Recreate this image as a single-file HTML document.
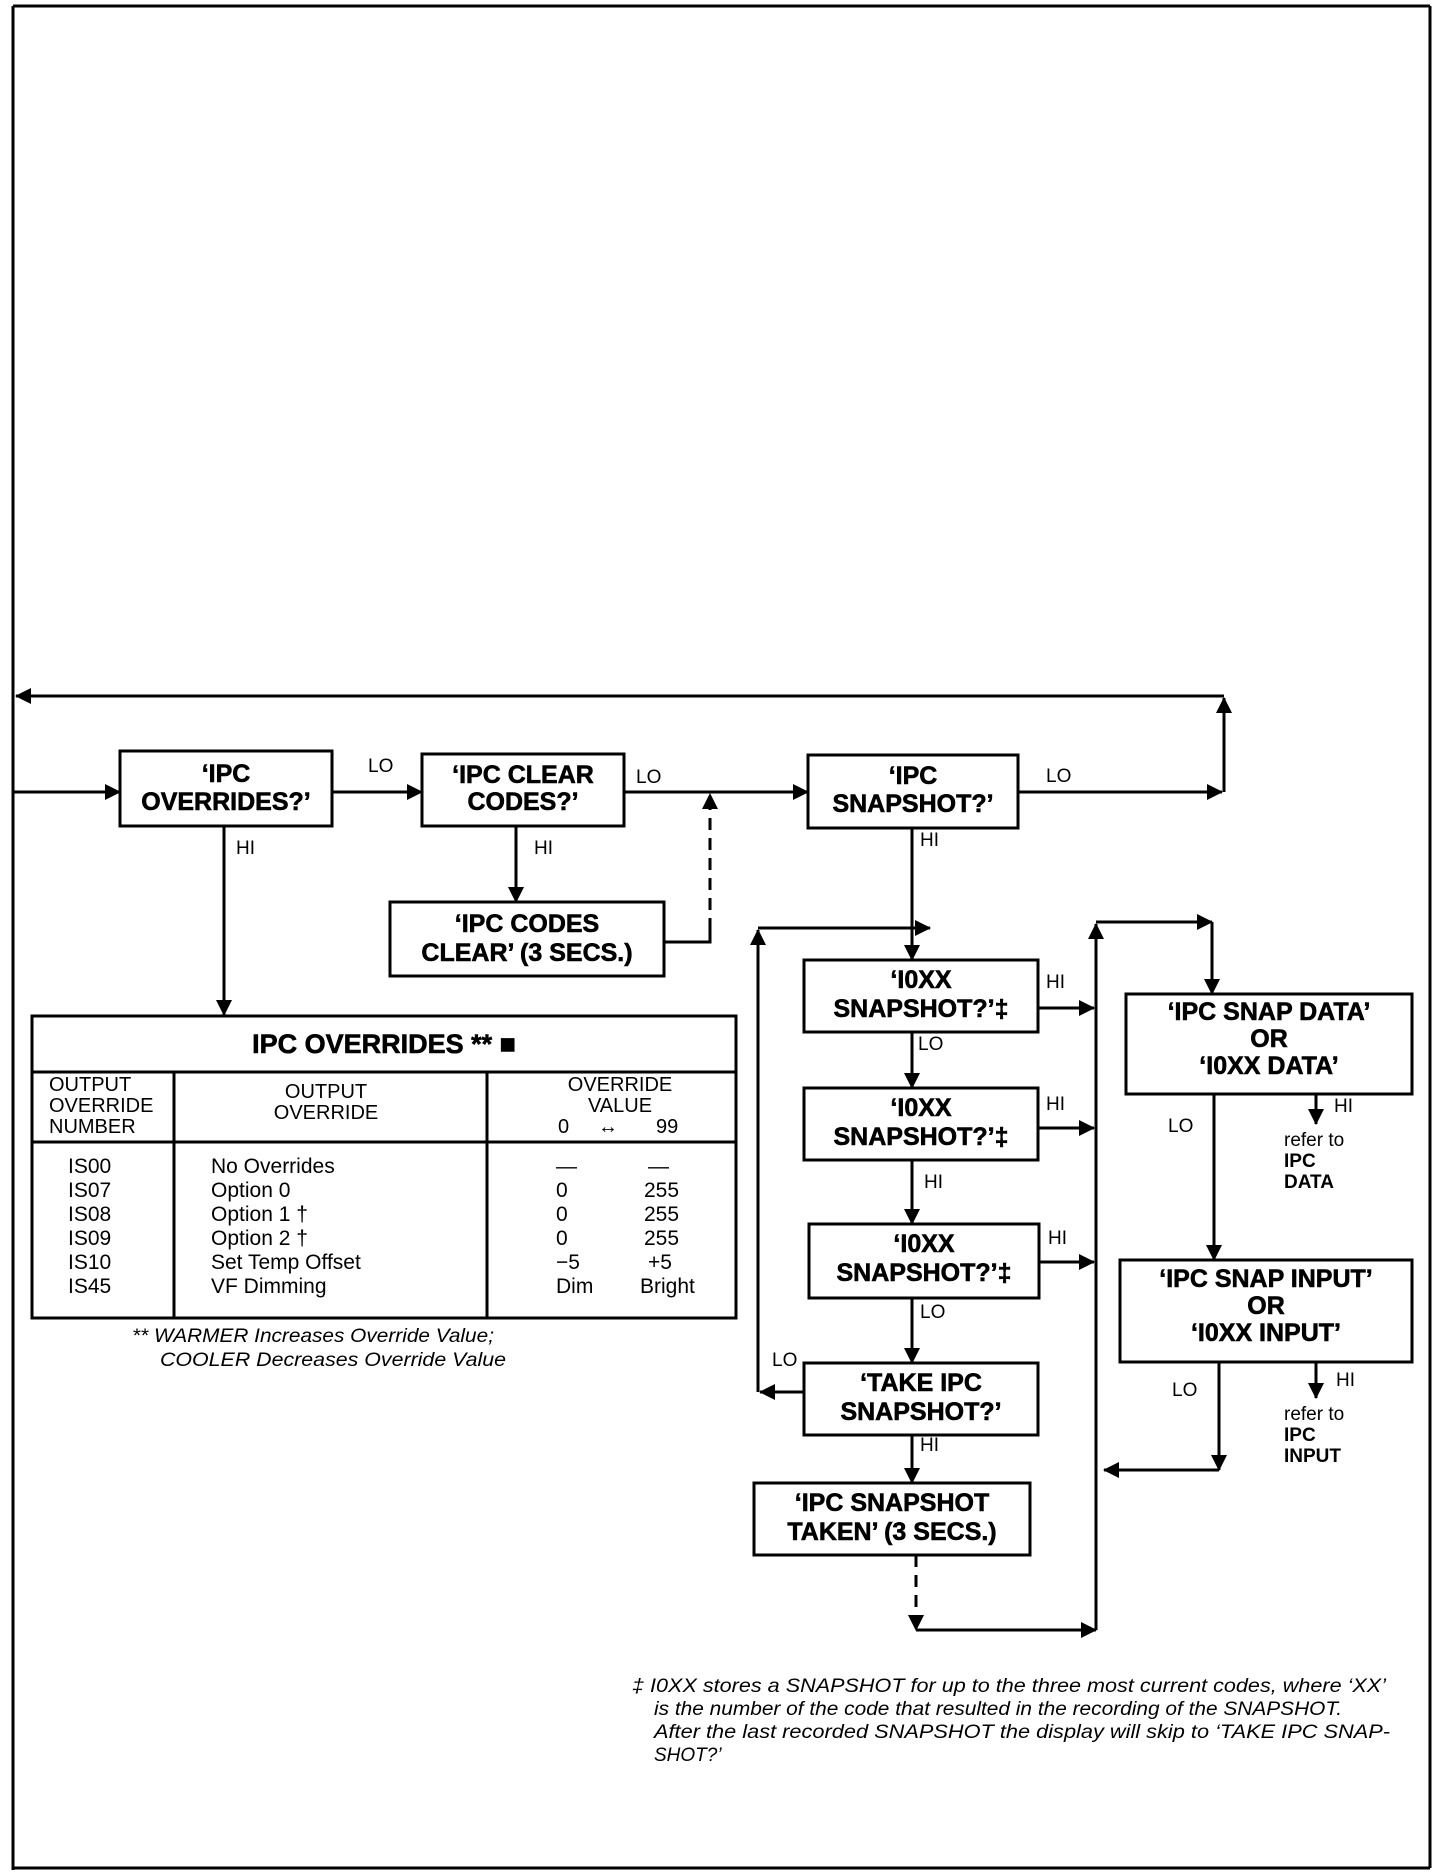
<!DOCTYPE html>
<html><head><meta charset="utf-8"><style>
html,body{margin:0;padding:0;background:#fff}
svg{display:block}
text{font-family:"Liberation Sans",Arial,sans-serif;fill:#000}
.b{font-weight:bold;font-size:25px;text-anchor:middle;stroke:#000;stroke-width:0.6}
.l{font-size:19px}
.t{font-size:21px}
.i{font-style:italic;font-size:19px}
</style></head><body>
<svg width="1440" height="1872" viewBox="0 0 1440 1872" xmlns="http://www.w3.org/2000/svg">
<defs>
<marker id="A" markerWidth="16" markerHeight="16" refX="15" refY="8" orient="auto" markerUnits="userSpaceOnUse">
<path d="M0,0 L16,8 L0,16 z" fill="#000"/></marker>
</defs>
<g stroke="#000" fill="none" stroke-width="3">
<line x1="13" y1="6" x2="1430" y2="6"/>
<line x1="13" y1="6" x2="13" y2="1870"/>
<line x1="13" y1="1868" x2="1430" y2="1868"/>
<line x1="1430" y1="6" x2="1430" y2="1868"/>
<line x1="1224" y1="696" x2="16" y2="696" marker-end="url(#A)"/>
<line x1="1224" y1="792" x2="1224" y2="698" marker-end="url(#A)"/>
<line x1="13" y1="792" x2="120" y2="792" marker-end="url(#A)"/>
<line x1="332" y1="792" x2="422" y2="792" marker-end="url(#A)"/>
<line x1="624" y1="792" x2="808" y2="792" marker-end="url(#A)"/>
<line x1="1018" y1="792" x2="1222" y2="792" marker-end="url(#A)"/>
<line x1="224" y1="826" x2="224" y2="1015" marker-end="url(#A)"/>
<line x1="516" y1="826" x2="516" y2="902" marker-end="url(#A)"/>
<polyline points="664,942 710,942 710,930"/>
<line x1="710" y1="930" x2="710" y2="794" stroke-dasharray="12,8" marker-end="url(#A)"/>
<rect x="120" y="751" width="212" height="75"/>
<rect x="422" y="754" width="202" height="72"/>
<rect x="808" y="755" width="210" height="73"/>
<rect x="390" y="902" width="274" height="74"/>
<rect x="804" y="960" width="234" height="72"/>
<rect x="804" y="1088" width="234" height="72"/>
<rect x="809" y="1224" width="230" height="74"/>
<rect x="804" y="1363" width="234" height="72"/>
<rect x="754" y="1483" width="276" height="72"/>
<rect x="1126" y="994" width="286" height="100"/>
<rect x="1120" y="1260" width="292" height="102"/>
<rect x="32" y="1016" width="704" height="302"/>
<line x1="32" y1="1072" x2="736" y2="1072"/>
<line x1="32" y1="1142" x2="736" y2="1142"/>
<line x1="174" y1="1072" x2="174" y2="1318"/>
<line x1="487" y1="1072" x2="487" y2="1318"/>
<line x1="912" y1="828" x2="912" y2="960" marker-end="url(#A)"/>
<line x1="758" y1="928" x2="930" y2="928" marker-end="url(#A)"/>
<line x1="758" y1="1392" x2="758" y2="930" marker-end="url(#A)"/>
<line x1="804" y1="1392" x2="760" y2="1392" marker-end="url(#A)"/>
<line x1="912" y1="1032" x2="912" y2="1088" marker-end="url(#A)"/>
<line x1="912" y1="1160" x2="912" y2="1224" marker-end="url(#A)"/>
<line x1="912" y1="1298" x2="912" y2="1363" marker-end="url(#A)"/>
<line x1="912" y1="1435" x2="912" y2="1483" marker-end="url(#A)"/>
<line x1="1038" y1="1008" x2="1094" y2="1008" marker-end="url(#A)"/>
<line x1="1038" y1="1128" x2="1094" y2="1128" marker-end="url(#A)"/>
<line x1="1039" y1="1262" x2="1094" y2="1262" marker-end="url(#A)"/>
<line x1="916" y1="1555" x2="916" y2="1630" stroke-dasharray="12,8" marker-end="url(#A)"/>
<line x1="916" y1="1630" x2="1096" y2="1630" marker-end="url(#A)"/>
<line x1="1096" y1="1630" x2="1096" y2="924" marker-end="url(#A)"/>
<line x1="1096" y1="922" x2="1212" y2="922" marker-end="url(#A)"/>
<line x1="1212" y1="922" x2="1212" y2="994" marker-end="url(#A)"/>
<line x1="1316" y1="1094" x2="1316" y2="1124" marker-end="url(#A)"/>
<line x1="1214" y1="1094" x2="1214" y2="1260" marker-end="url(#A)"/>
<line x1="1316" y1="1362" x2="1316" y2="1398" marker-end="url(#A)"/>
<line x1="1219" y1="1362" x2="1219" y2="1470" marker-end="url(#A)"/>
<line x1="1219" y1="1470" x2="1104" y2="1470" marker-end="url(#A)"/>
</g>
<text class="b" x="226" y="782">‘IPC</text><text class="b" x="226" y="810">OVERRIDES?’</text>
<text class="b" x="523" y="783">‘IPC CLEAR</text><text class="b" x="523" y="810">CODES?’</text>
<text class="b" x="913" y="784">‘IPC</text><text class="b" x="913" y="812">SNAPSHOT?’</text>
<text class="b" x="527" y="932">‘IPC CODES</text><text class="b" x="527" y="961">CLEAR’ (3 SECS.)</text>
<text class="b" x="921" y="988">‘I0XX</text><text class="b" x="921" y="1017">SNAPSHOT?’‡</text>
<text class="b" x="921" y="1116">‘I0XX</text><text class="b" x="921" y="1145">SNAPSHOT?’‡</text>
<text class="b" x="924" y="1252">‘I0XX</text><text class="b" x="924" y="1281">SNAPSHOT?’‡</text>
<text class="b" x="921" y="1391">‘TAKE IPC</text><text class="b" x="921" y="1420">SNAPSHOT?’</text>
<text class="b" x="892" y="1511">‘IPC SNAPSHOT</text><text class="b" x="892" y="1540">TAKEN’ (3 SECS.)</text>
<text class="b" x="1269" y="1020">‘IPC SNAP DATA’</text><text class="b" x="1269" y="1047">OR</text><text class="b" x="1269" y="1074">‘I0XX DATA’</text>
<text class="b" x="1266" y="1287">‘IPC SNAP INPUT’</text><text class="b" x="1266" y="1314">OR</text><text class="b" x="1266" y="1341">‘I0XX INPUT’</text>
<g class="l">
<text x="368" y="772">LO</text><text x="636" y="783">LO</text><text x="1046" y="782">LO</text>
<text x="236" y="854">HI</text><text x="534" y="854">HI</text><text x="920" y="846">HI</text>
<text x="1046" y="988">HI</text><text x="918" y="1050">LO</text>
<text x="1046" y="1110">HI</text><text x="924" y="1188">HI</text>
<text x="1048" y="1244">HI</text><text x="920" y="1318">LO</text>
<text x="772" y="1366">LO</text><text x="920" y="1451">HI</text>
<text x="1334" y="1112">HI</text><text x="1168" y="1132">LO</text>
<text x="1336" y="1386">HI</text><text x="1172" y="1396">LO</text>
<text x="1284" y="1146">refer to</text><text x="1284" y="1167" font-weight="bold">IPC</text><text x="1284" y="1188" font-weight="bold">DATA</text>
<text x="1284" y="1420">refer to</text><text x="1284" y="1441" font-weight="bold">IPC</text><text x="1284" y="1462" font-weight="bold">INPUT</text>
</g>
<text class="b" x="384" y="1053" style="font-size:27px">IPC OVERRIDES ** ■</text>
<g style="font-size:20px">
<text x="49" y="1091">OUTPUT</text><text x="49" y="1112">OVERRIDE</text><text x="49" y="1133">NUMBER</text>
<text x="326" y="1098" text-anchor="middle">OUTPUT</text><text x="326" y="1119" text-anchor="middle">OVERRIDE</text>
<text x="620" y="1091" text-anchor="middle">OVERRIDE</text><text x="620" y="1112" text-anchor="middle">VALUE</text>
<text x="558" y="1133">0</text><text x="598" y="1133">↔</text><text x="656" y="1133">99</text>
</g>
<g class="t">
<text x="68" y="1173">IS00</text><text x="68" y="1197">IS07</text><text x="68" y="1221">IS08</text><text x="68" y="1245">IS09</text><text x="68" y="1269">IS10</text><text x="68" y="1293">IS45</text>
<text x="211" y="1173">No Overrides</text><text x="211" y="1197">Option 0</text><text x="211" y="1221">Option 1 †</text><text x="211" y="1245">Option 2 †</text><text x="211" y="1269">Set Temp  Offset</text><text x="211" y="1293">VF Dimming</text>
<text x="556" y="1173">—</text><text x="556" y="1197">0</text><text x="556" y="1221">0</text><text x="556" y="1245">0</text><text x="556" y="1269">−5</text><text x="556" y="1293">Dim</text>
<text x="648" y="1173">—</text><text x="644" y="1197">255</text><text x="644" y="1221">255</text><text x="644" y="1245">255</text><text x="648" y="1269">+5</text><text x="640" y="1293">Bright</text>
</g>
<text class="i" x="132" y="1342" textLength="362" lengthAdjust="spacingAndGlyphs">** WARMER Increases Override Value;</text>
<text class="i" x="160" y="1366" textLength="346" lengthAdjust="spacingAndGlyphs">COOLER Decreases Override Value</text>
<g class="i">
<text x="632" y="1692" textLength="754" lengthAdjust="spacingAndGlyphs">‡ I0XX  stores a SNAPSHOT for up to the three most current codes, where ‘XX’</text>
<text x="654" y="1715" textLength="688" lengthAdjust="spacingAndGlyphs">is the number of the code that resulted in the recording of the SNAPSHOT.</text>
<text x="654" y="1738" textLength="736" lengthAdjust="spacingAndGlyphs">After the last recorded SNAPSHOT the display will  skip to ‘TAKE IPC SNAP-</text>
<text x="654" y="1761">SHOT?’</text>
</g>
</svg>
</body></html>
